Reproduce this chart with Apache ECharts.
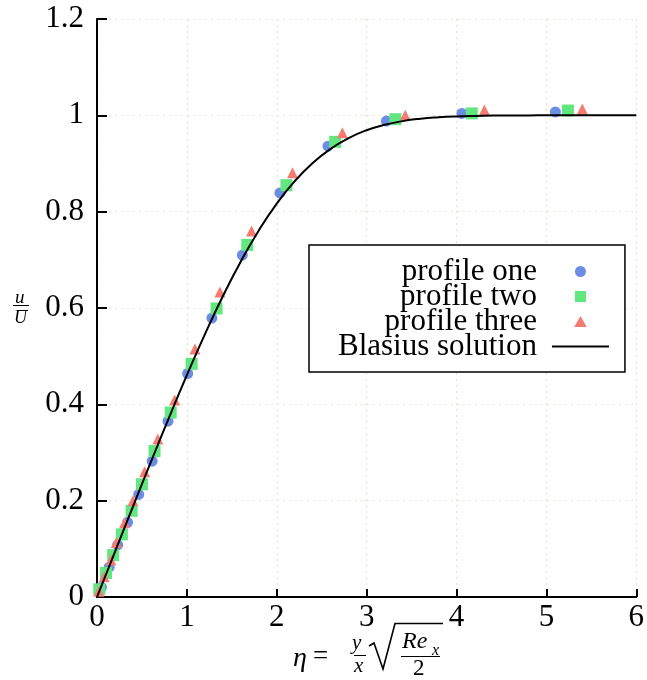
<!DOCTYPE html>
<html>
<head>
<meta charset="utf-8">
<script src="https://cdn.jsdelivr.net/npm/echarts@6/dist/echarts.min.js"></script>
<style>
html,body{margin:0;padding:0;background:#fff;}
#chart{width:647px;height:680px;}
</style>
</head>
<body>
<div id="chart"></div>
<script>
// ---- data ----
const xTicks = [0, 1, 2, 3, 4, 5, 6];
const yTicks = [0, 0.2, 0.4, 0.6, 0.8, 1, 1.2];

const profileOneEta = [0.05, 0.135, 0.23, 0.34, 0.464, 0.614, 0.79, 1.009, 1.278, 1.617, 2.035, 2.57, 3.22, 4.06, 5.10];
const profileOneU   = [0.02, 0.062, 0.108, 0.155, 0.213, 0.282, 0.365, 0.464, 0.579, 0.710, 0.839, 0.936, 0.988, 1.004, 1.007];

const profileTwoEta = [0.025, 0.10, 0.18, 0.277, 0.385, 0.50, 0.64, 0.82, 1.053, 1.33, 1.672, 2.108, 2.65, 3.32, 4.17, 5.24];
const profileTwoU   = [0.016, 0.05, 0.087, 0.13, 0.179, 0.234, 0.303, 0.383, 0.484, 0.599, 0.731, 0.855, 0.945, 0.992, 1.004, 1.01];

const profileThreeEta = [0.02, 0.08, 0.155, 0.215, 0.307, 0.40, 0.53, 0.677, 0.864, 1.09, 1.367, 1.72, 2.175, 2.73, 3.43, 4.31, 5.40];
const profileThreeU   = [0.012, 0.042, 0.077, 0.113, 0.154, 0.200, 0.26, 0.328, 0.409, 0.515, 0.633, 0.760, 0.881, 0.964, 1.0, 1.011, 1.013];

const blasiusEta = [0, 0.2, 0.4, 0.6, 0.8, 1.0, 1.2, 1.4, 1.6, 1.8, 2.0, 2.2, 2.4, 2.6, 2.8, 3.0, 3.2, 3.4, 3.6, 3.8, 4.0, 4.2, 4.4, 4.6, 4.8, 5.0, 5.5, 6.0];
const blasiusU   = [0, 0.0939, 0.1876, 0.2806, 0.3720, 0.4606, 0.5453, 0.6244, 0.6967, 0.7610, 0.8167, 0.8633, 0.9011, 0.9306, 0.9529, 0.9691, 0.9804, 0.9880, 0.9929, 0.9959, 0.9978, 0.9988, 0.9994, 0.9997, 0.9999, 1.0, 1.0, 1.0];

const seriesNames = ['profile one', 'profile two', 'profile three', 'Blasius solution'];

function pairs(xs, ys) { return xs.map((x, i) => [x, ys[i]]); }

const SERIF = '"Liberation Serif", "DejaVu Serif", serif';
const chart = echarts.init(document.getElementById('chart'), null, {renderer: 'canvas'});

const gridLine = {show: true, lineStyle: {color: '#e4e4d4', type: [2, 4], width: 1.2}};

const option = {
  backgroundColor: '#ffffff',
  animation: false,
  grid: {left: 97, right: 8, top: 19, bottom: 83, containLabel: false},
  xAxis: {
    type: 'value', min: xTicks[0], max: xTicks[xTicks.length - 1], interval: 1,
    axisLine: {show: true, onZero: false, lineStyle: {color: '#000', width: 2}},
    axisTick: {show: true, inside: true, length: 8, lineStyle: {color: '#000', width: 2}},
    axisLabel: {color: '#000', fontFamily: SERIF, fontSize: 31, margin: 5},
    splitLine: gridLine
  },
  yAxis: {
    type: 'value', min: yTicks[0], max: yTicks[yTicks.length - 1], interval: 0.2,
    axisLine: {show: true, onZero: false, lineStyle: {color: '#000', width: 2}},
    axisTick: {show: true, inside: true, length: 10, lineStyle: {color: '#000', width: 2}},
    axisLabel: {color: '#000', fontFamily: SERIF, fontSize: 31, margin: 13},
    splitLine: gridLine
  },
  legend: {
    orient: 'vertical', align: 'right',
    left: 309, top: 245,
    padding: [11, 15, 10, 29],
    backgroundColor: '#fff',
    borderColor: '#000', borderWidth: 1.5, borderRadius: 0,
    itemWidth: 57, itemHeight: 11, itemGap: -6,
    symbolKeepAspect: true,
    textStyle: {color: '#000', fontFamily: SERIF, fontSize: 31, lineHeight: 25, padding: [0, 10, 0, 0]},
    data: [
      {name: seriesNames[0], icon: 'circle'},
      {name: seriesNames[1], icon: 'path://M0,0L10,0L10,10L0,10Z'},
      {name: seriesNames[2], icon: 'path://M5,0L10,8.7L0,8.7Z'},
      {name: seriesNames[3], itemStyle: {opacity: 0}}
    ]
  },
  series: [
    {name: seriesNames[0], type: 'scatter', symbol: 'circle', symbolSize: 11,
     itemStyle: {color: '#6c8de3', opacity: 1}, data: pairs(profileOneEta, profileOneU), z: 3},
    {name: seriesNames[1], type: 'scatter', symbol: 'rect', symbolSize: 12,
     itemStyle: {color: '#62e67f', opacity: 1}, data: pairs(profileTwoEta, profileTwoU), z: 4},
    {name: seriesNames[2], type: 'scatter', symbol: 'triangle', symbolSize: 11,
     itemStyle: {color: '#f47c70', opacity: 1}, data: pairs(profileThreeEta, profileThreeU), z: 5},
    {name: seriesNames[3], type: 'line', smooth: true, symbol: 'none', showSymbol: false,
     lineStyle: {color: '#000', width: 2}, itemStyle: {color: '#000'},
     data: pairs(blasiusEta, blasiusU), z: 6}
  ],
  graphic: [
    // y-axis name: u / U-bar
    {type: 'text', left: 15, top: 288, style: {text: 'u', font: 'italic 19px ' + SERIF, fill: '#000'}},
    {type: 'line', shape: {x1: 13, y1: 305.5, x2: 29, y2: 305.5}, style: {stroke: '#000', lineWidth: 1}},
    {type: 'text', left: 14, top: 309, style: {text: 'U', font: 'italic 18px ' + SERIF, fill: '#000'}},
    {type: 'line', shape: {x1: 18, y1: 310.5, x2: 28, y2: 310.5}, style: {stroke: '#000', lineWidth: 1}},
    // x-axis name: eta = y/x sqrt(Re_x / 2)
    {type: 'text', left: 293, top: 645, style: {text: 'η', font: 'italic 28px ' + SERIF, fill: '#000'}},
    {type: 'text', left: 313, top: 643, style: {text: '=', font: '27px ' + SERIF, fill: '#000'}},
    {type: 'text', left: 352, top: 633, style: {text: 'y', font: 'italic 21px ' + SERIF, fill: '#000'}},
    {type: 'line', shape: {x1: 354, y1: 655.5, x2: 366, y2: 655.5}, style: {stroke: '#000', lineWidth: 1}},
    {type: 'text', left: 354, top: 656, style: {text: 'x', font: 'italic 21px ' + SERIF, fill: '#000'}},
    {type: 'polyline', shape: {points: [[369, 646], [374, 643], [383, 669], [395, 623.5], [443, 623.5]]},
     style: {stroke: '#000', lineWidth: 1.6, fill: null}},
    {type: 'text', left: 402, top: 630, style: {text: 'Re', font: 'italic 24px ' + SERIF, fill: '#000'}},
    {type: 'text', left: 432, top: 643, style: {text: 'x', font: 'italic 16px ' + SERIF, fill: '#000'}},
    {type: 'line', shape: {x1: 401, y1: 656.5, x2: 440, y2: 656.5}, style: {stroke: '#000', lineWidth: 1}},
    {type: 'text', left: 413, top: 657, style: {text: '2', font: '23px ' + SERIF, fill: '#000'}}
  ]
};
chart.setOption(option);
</script>
</body>
</html>
